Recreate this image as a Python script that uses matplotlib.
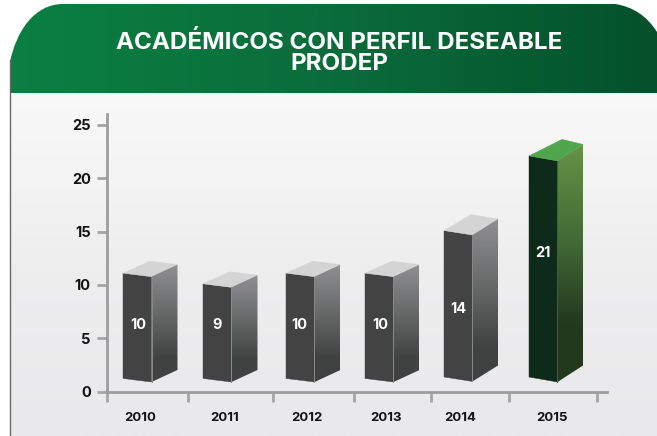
import matplotlib
matplotlib.use("Agg")
import matplotlib.pyplot as plt
import numpy as np
from matplotlib.colors import LinearSegmentedColormap
from matplotlib.patches import PathPatch, Polygon
from matplotlib.path import Path

plt.rcParams['font.family'] = ['Inter', 'DejaVu Sans']

title = "ACADÉMICOS CON PERFIL DESEABLE\nPRODEP"
years = ["2010", "2011", "2012", "2013", "2014", "2015"]
values = [10, 9, 10, 10, 14, 21]
y_ticks = [0, 5, 10, 15, 20, 25]

W, H = 657, 436
# chart box in picture pixels
AX_L, AX_R, AX_T, AX_B = 107, 607, 114, 391.5

# layout, pixels from the y axis
tick_x = [0, 80.5, 166, 247.5, 324, 402, 490]
year_x = [33, 118, 200, 279.5, 353.5, 445]
bar_left = [16, 96, 179, 258, 337, 422]
label_x = [31, 110, 192, 273.5, 351, 436]
label_y = [6.28, 6.28, 6.28, 6.28, 7.75, 12.95]
bar_base = [1.22, 1.22, 1.22, 1.22, 1.36, 1.36]
front_w = 28.5
side_w = [26, 26, 26, 26, 25.5, 25.5]
rise = [1.13, 1.13, 1.13, 1.13, 1.5, 1.55]   # data units
slope = [0.33, 0.33, 0.33, 0.33, 0.42, 0.47]
back_dx = [27, 27, 27, 27, 27, 33]

gray_side = LinearSegmentedColormap.from_list("g", [(0, "#909093"), (0.4, "#696a6a"), (0.8, "#404241"), (1, "#404241")])
green_side = LinearSegmentedColormap.from_list("v", [(0, "#659346"), (0.4, "#436b36"), (0.75, "#24391e"), (1, "#233a1f")])

fig = plt.figure(figsize=(W / 100, H / 100), dpi=100, facecolor="white")

# background layer in pixel coords
bg = fig.add_axes([0, 0, 1, 1])
bg.set_xlim(0, W)
bg.set_ylim(H, 0)
bg.axis("off")

body = LinearSegmentedColormap.from_list("b", ["#f9f9f9", "#eeeeef", "#e9e9eb"])
bg.imshow(np.linspace(0, 1, 256).reshape(-1, 1), cmap=body, extent=[10, W, H, 94], aspect="auto", zorder=1)
bg.plot([10, 10], [60, H], color="#6a6a6a", lw=1.0, zorder=3)

head = LinearSegmentedColormap.from_list("h", ["#0a8042", "#0a6c3b", "#04512c"])
im = bg.imshow(np.linspace(0, 1, 256).reshape(1, -1), cmap=head, extent=[10, W, 93.5, 4], aspect="auto", zorder=2)
verts = [(10, 93.5), (10, 62), (16, 32), (34, 4), (63, 4), (615, 4), (642, 8), (657, 32), (657, 42), (657, 93.5), (10, 93.5)]
codes = [Path.MOVETO, Path.LINETO, Path.CURVE4, Path.CURVE4, Path.CURVE4, Path.LINETO, Path.CURVE3, Path.CURVE3, Path.LINETO, Path.LINETO, Path.CLOSEPOLY]
clip = PathPatch(Path(verts, codes), transform=bg.transData, fc="none", ec="none")
bg.add_patch(clip)
im.set_clip_path(clip)
bg.set_xlim(0, W)
bg.set_ylim(H, 0)
bg.text(339, 53, title, color="white", fontsize=17.4, fontweight="bold", ha="center", va="center",
        linespacing=0.98, zorder=4)

# chart layer
ax = fig.add_axes([AX_L / W, 1 - AX_B / H, (AX_R - AX_L) / W, (AX_B - AX_T) / H])
ax.patch.set_alpha(0)
ax.set_xlim(0, AX_R - AX_L)
ax.set_ylim(0, (AX_B - AX_T) / 10.66)
for s in ["top", "right"]:
    ax.spines[s].set_visible(False)
for s in ["left", "bottom"]:
    ax.spines[s].set_color("#9d9d9d")
    ax.spines[s].set_linewidth(2)

ax.set_yticks(y_ticks)
ax.tick_params(axis="y", length=7, width=2, color="#a5a5a5", pad=4.7, labelsize=10.5)
ax.set_xticks(tick_x, labels=[""] * len(tick_x))
ax.tick_params(axis="x", which="major", length=7, width=2, color="#a5a5a5")
ax.set_xticks(year_x, labels=years, minor=True)
ax.tick_params(axis="x", which="minor", length=0, pad=15, labelsize=9.5)
for t in ax.get_yticklabels() + ax.get_xticklabels(minor=True):
    t.set_fontweight("bold")
    t.set_color("#111111")

for i, v in enumerate(values):
    l = bar_left[i]
    r = l + front_w
    far = r + side_w[i]
    top = 1.1 + v
    base = bar_base[i]
    drop = slope[i]
    is_last = i == len(values) - 1

    front_c = "#0e2a1a" if is_last else "#424342"
    top_c = "#4fa64c" if is_last else "#d3d4d3"
    cmap = green_side if is_last else gray_side

    front = [(l, top), (r, top - drop), (r, base - drop), (l, base)]
    side = [(r, top - drop), (far, top - drop + rise[i]), (far, base - drop + rise[i]), (r, base - drop)]
    cap = [(l, top), (r, top - drop), (far, top - drop + rise[i]), (l + back_dx[i], top + rise[i])]

    ax.add_patch(Polygon(front, fc=front_c, ec=front_c, lw=0.3, zorder=3, clip_on=False))
    ax.add_patch(Polygon(cap, fc=top_c, ec=top_c, lw=0.3, zorder=3, clip_on=False))

    side_poly = Polygon(side, fc="none", ec="none", zorder=3, clip_on=False)
    ax.add_patch(side_poly)
    grad = ax.imshow(np.linspace(0, 1, 256).reshape(-1, 1), cmap=cmap, aspect="auto", zorder=3,
                     extent=[r, far, base - drop, top - drop + rise[i]], origin="upper")
    grad.set_clip_path(side_poly)
    ax.plot([r, r], [base - drop, top - drop], color="#8a8a8a" if not is_last else "#44603a", lw=0.7, zorder=4)

    ax.text(label_x[i], label_y[i], str(v), color="white", fontsize=10.5, fontweight="bold",
            ha="center", va="center", zorder=5)

ax.set_xlim(0, AX_R - AX_L)
ax.set_ylim(0, (AX_B - AX_T) / 10.66)

fig.savefig("out.png", dpi=100)
